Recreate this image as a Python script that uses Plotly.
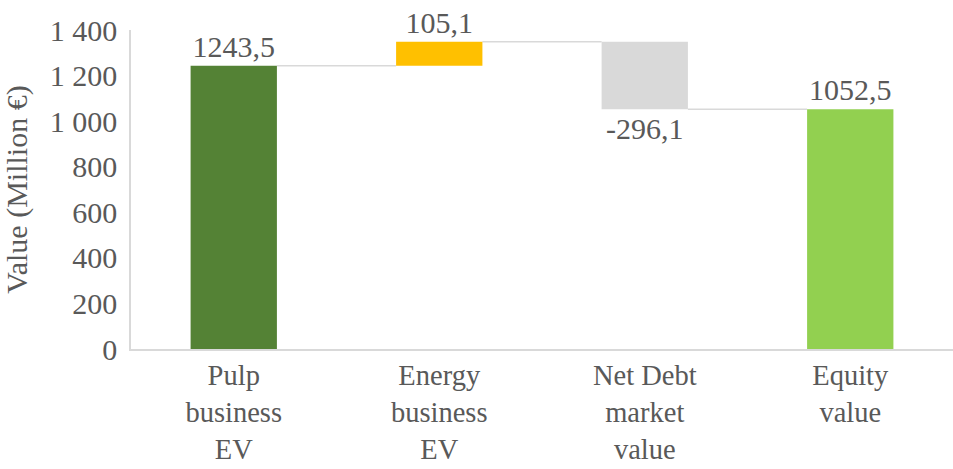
import plotly.graph_objects as go

categories = ["Pulp<br>business<br>EV", "Energy<br>business<br>EV", "Net Debt<br>market<br>value", "Equity<br>value"]
values = [1243.5, 105.1, -296.1, 1052.5]
measures = ["absolute", "relative", "relative", "total"]
colors = ["#548235", "#FFC000", "#D9D9D9", "#92D050"]
tick_vals = [0, 200, 400, 600, 800, 1000, 1200, 1400]
tick_text = ["0", "200", "400", "600", "800", "1 000", "1 200", "1 400"]

# compute bases / heights for waterfall
bases, heights, levels = [], [], []
running = 0.0
for v, m in zip(values, measures):
    if m == "absolute":
        bases.append(0); heights.append(v); running = v
    elif m == "relative":
        bases.append(running); heights.append(v); running += v
    else:
        bases.append(0); heights.append(v); running = v
    levels.append(running)

labels = [f"{v:.1f}".replace(".", ",") for v in values]

FONT = "Liberation Serif, Times New Roman, serif"
TXT = "#595959"
FS = 30
bw = 0.42

fig = go.Figure()
fig.add_trace(go.Bar(
    x=list(range(len(categories))), y=heights, base=bases, width=bw,
    marker=dict(color=colors, line=dict(width=0)),
    text=labels, textposition="outside", constraintext="none", cliponaxis=False,
    textfont=dict(family=FONT, size=FS, color=TXT),
    showlegend=False, hoverinfo="skip",
))

for i in range(len(values) - 1):
    fig.add_shape(type="line", xref="x", yref="y",
                  x0=i + bw / 2, x1=i + 1 - bw / 2, y0=levels[i], y1=levels[i],
                  line=dict(color="#D9D9D9", width=1.5), layer="below")

fig.update_layout(
    width=953, height=469,
    margin=dict(l=131, r=0, t=30, b=120),
    paper_bgcolor="white", plot_bgcolor="white",
    font=dict(family=FONT, size=FS, color=TXT),
    bargap=0.58,
)
fig.update_xaxes(
    tickmode="array", tickvals=list(range(len(categories))), ticktext=categories,
    range=[-0.5, len(categories) - 0.5], automargin=False,
    showline=True, linecolor="#D9D9D9", linewidth=1.5,
    showgrid=False, zeroline=False, ticks="", ticklabelstandoff=0,
    tickfont=dict(family=FONT, size=28.5, color=TXT),
)
fig.update_yaxes(
    range=[0, 1400], tickmode="array", tickvals=tick_vals, ticktext=tick_text,
    automargin=False,
    showline=True, linecolor="#D9D9D9", linewidth=1.5,
    showgrid=False, zeroline=False, ticks="", ticklabelstandoff=6,
    tickfont=dict(family=FONT, size=FS, color=TXT),
    title=dict(text="Value (Million €)", standoff=14, font=dict(family=FONT, size=FS, color=TXT)),
)

fig.write_html("out.html")
